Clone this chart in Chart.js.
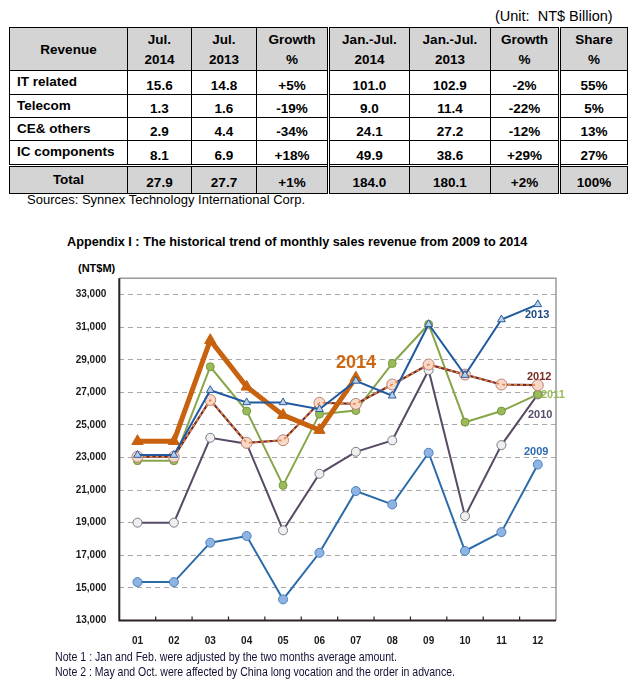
<!DOCTYPE html>
<html>
<head>
<meta charset="utf-8">
<script src="https://cdn.jsdelivr.net/npm/chart.js@4.4.1/dist/chart.umd.min.js"></script>
<style>
  html, body { margin:0; padding:0; background:#fff; }
  body { width:636px; height:688px; position:relative; overflow:hidden; font-family:"Liberation Sans", Arial, sans-serif; color:#000; }
  .abs { position:absolute; white-space:nowrap; }
  .fit { transform-origin:0 0; }
  #tbl { position:absolute; left:9px; top:27px; border-collapse:collapse; table-layout:fixed; font-weight:bold; font-size:13.5px; }
  #tbl td { border:1px solid #000; padding:0; text-align:center; vertical-align:middle; overflow:hidden; }
  #tbl tr.head td { background:#D4D4D4; line-height:20px; padding-top:2px; }
  #tbl tr.body td { padding-top:5px; }
  #tbl tr.body td.lbl { text-align:left; padding-left:7px; padding-top:0; padding-bottom:2px; }
  #tbl tr.total td { background:#D4D4D4; border-top:3px double #000; padding-top:4px; }
  #tbl tr.total td.lbl { padding-top:0; padding-bottom:2px; }
  #tbl td.dbl { border-left:3px double #000; }
  #chartWrap { position:absolute; left:0; top:250px; width:636px; height:400px; }
  .lab { position:absolute; font-weight:bold; font-size:11px; white-space:nowrap; transform:translateY(-50%); }
</style>
</head>
<body>
<div class="abs" style="left:495px; top:8px; font-size:14.5px;">(Unit:&nbsp; NT$ Billion)</div>
<table id="tbl"></table>
<div class="abs fit" data-w="278" style="left:27px; top:192px; font-size:13.5px;">Sources: Synnex Technology International Corp.</div>

<div class="abs" style="left:67px; top:235px; font-size:12.7px; font-weight:bold;">Appendix I : The historical trend of monthly sales revenue from 2009 to 2014</div>
<div class="abs" style="left:78px; top:262px; font-size:11px; font-weight:bold;">(NT$M)</div>

<div id="chartWrap"><canvas id="c" width="636" height="400" style="width:636px;height:400px;"></canvas></div>

<div class="lab" style="left:525px; top:314px; color:#1F497D;">2013</div>
<div class="lab" style="left:527px; top:376px; color:#7B2A22;">2012</div>
<div class="lab" style="left:541px; top:394px; color:#9BBB59;">2011</div>
<div class="lab" style="left:528px; top:414px; color:#5B4B6B;">2010</div>
<div class="lab" style="left:524px; top:451px; color:#2E6CB0;">2009</div>
<div class="lab" style="left:336px; top:362px; color:#CC6611; font-size:18px;">2014</div>

<div class="abs fit" data-w="342" style="left:55px; top:649px; font-size:13px; color:#111133;">Note 1 : Jan and Feb. were adjusted by the two months average amount.</div>
<div class="abs fit" data-w="400" style="left:55px; top:664px; font-size:13px; color:#111133;">Note 2 : May and Oct. were affected by China long vocation and the order in advance.</div>

<script>
// ---------- table data ----------
const tableHeader = [['Revenue'], ['Jul.','2014'], ['Jul.','2013'], ['Growth','%'], ['Jan.-Jul.','2014'], ['Jan.-Jul.','2013'], ['Growth','%'], ['Share','%']];
const tableRows = [
  ['IT related',    '15.6', '14.8', '+5%',  '101.0', '102.9', '-2%',  '55%'],
  ['Telecom',       '1.3',  '1.6',  '-19%', '9.0',   '11.4',  '-22%', '5%'],
  ['CE& others',    '2.9',  '4.4',  '-34%', '24.1',  '27.2',  '-12%', '13%'],
  ['IC components', '8.1',  '6.9',  '+18%', '49.9',  '38.6',  '+29%', '27%']
];
const totalRow = ['Total', '27.9', '27.7', '+1%', '184.0', '180.1', '+2%', '100%'];

// ---------- chart data ----------
const months = ['01','02','03','04','05','06','07','08','09','10','11','12'];
const yTicks = [13000,15000,17000,19000,21000,23000,25000,27000,29000,31000,33000];
const s2009 = [15350,15350,17770,18180,14290,17150,20940,20120,23290,17260,18420,22570];
const s2010 = [19000,19000,24210,23850,18530,22000,23350,24050,28360,19400,23760,26870];
const s2011 = [22800,22800,28570,25850,21290,25660,25880,28770,31180,25170,25850,26870];
const s2012 = [23050,23050,26530,23900,24060,26360,26290,27480,28710,28090,27480,27440];
const s2013 = [23150,23150,27130,26380,26380,25960,27700,26790,31180,28060,31470,32400];
const s2014 = [24000,24000,30200,27340,25600,24680,27900];

// ---------- fit condensed text lines ----------
document.querySelectorAll('.fit').forEach(el => {
  const w = el.getBoundingClientRect().width;
  el.style.transform = 'scaleX(' + (parseFloat(el.dataset.w) / w) + ')';
});

// ---------- build table ----------
const colW = [118, 64, 65, 72, 81, 81, 69, 68];
const rowH = [41, 24, 23, 23, 25, 28];
const dblCols = [4, 7];
const tbl = document.getElementById('tbl');
const cg = document.createElement('colgroup');
colW.forEach(w => { const c = document.createElement('col'); c.style.width = w + 'px'; cg.appendChild(c); });
tbl.appendChild(cg);
function addRow(cells, cls, h, isHead) {
  const tr = document.createElement('tr');
  tr.className = cls;
  tr.style.height = h + 'px';
  cells.forEach((v, i) => {
    const td = document.createElement('td');
    if (isHead) td.innerHTML = v.join('<br>');
    else td.textContent = v;
    if (i === 0 && !isHead) td.className = 'lbl';
    if (dblCols.includes(i)) td.classList.add('dbl');
    tr.appendChild(td);
  });
  tbl.appendChild(tr);
}
addRow(tableHeader, 'head', rowH[0], true);
tableRows.forEach((r, i) => addRow(r, 'body', rowH[i + 1], false));
addRow(totalRow, 'total', rowH[5], false);
tbl.querySelector('tr.total td.lbl').style.textAlign = 'center';
tbl.querySelector('tr.total td.lbl').style.paddingLeft = '0';

// ---------- chart ----------
const frame = {
  id: 'frame',
  beforeDatasetsDraw(chart) {
    const {ctx, chartArea: a, scales} = chart;
    ctx.save();
    ctx.strokeStyle = '#9A9A9A';
    ctx.lineWidth = 1.5;
    ctx.beginPath();
    ctx.moveTo(a.left, a.top); ctx.lineTo(a.right, a.top); ctx.lineTo(a.right, a.bottom);
    ctx.stroke();
    ctx.strokeStyle = '#2B2024';
    ctx.lineWidth = 2;
    ctx.beginPath();
    ctx.moveTo(a.left, a.top); ctx.lineTo(a.left, a.bottom); ctx.lineTo(a.right, a.bottom);
    ctx.stroke();
    const x = scales.x;
    ctx.lineWidth = 1.2;
    ctx.beginPath();
    for (let i = 1; i < months.length; i++) {
      const px = (x.getPixelForValue(i - 1) + x.getPixelForValue(i)) / 2;
      ctx.moveTo(px, a.bottom); ctx.lineTo(px, a.bottom - 4);
    }
    ctx.stroke();
    ctx.restore();
  }
};

const ds = (label, data, line, fill, pbord, style, r, w, order, extra) => Object.assign({
  label, data, borderColor: line, backgroundColor: fill, pointBackgroundColor: fill,
  pointBorderColor: pbord, pointStyle: style, pointRadius: r, pointBorderWidth: 1,
  borderWidth: w, tension: 0, order, clip: false
}, extra || {});

new Chart(document.getElementById('c'), {
  type: 'line',
  data: {
    labels: months,
    datasets: [
      ds('2013', s2013, '#1F5AA0', '#B9CDE5', '#2A5E9E', 'triangle', 4.5, 2, 0),
      ds('2014', s2014, '#C8620F', '#C8620F', '#C8620F', 'triangle', 6.5, 5, 1),
      ds('2012d', s2012, '#E8843C', '#F8D8C8', '#B08070', 'circle', 0, 1.6, 2, {borderDash:[3,3]}),
      ds('2012', s2012, '#6E2A2A', '#F8D8C8', '#B8857A', 'circle', 5.5, 2.2, 3),
      ds('2011', s2011, '#88A54A', '#9BBB59', '#77963F', 'circle', 4, 2, 4),
      ds('2010', s2010, '#584A66', '#EFEFEF', '#7A7A8A', 'circle', 4.5, 2, 5),
      ds('2009', s2009, '#2A6BA8', '#8EB4E3', '#4A7EBB', 'circle', 4.5, 2, 6)
    ]
  },
  options: {
    responsive: false,
    animation: false,
    events: [],
    layout: { padding: { top: 28.3, right: 80, left: 0, bottom: 0 } },
    plugins: { legend: { display: false }, tooltip: { enabled: false } },
    scales: {
      x: {
        offset: true,
        grid: { display: false },
        border: { display: false },
        ticks: { color: '#1a1a1a', font: { family: 'Liberation Sans', size: 10, weight: 'bold' }, padding: 7, maxRotation: 0 },
        afterFit(s) { s.height = 29.6; }
      },
      y: {
        min: 13000, max: 34000,
        afterBuildTicks(s) { s.ticks = yTicks.map(v => ({ value: v })); },
        afterFit(s) { s.width = 119.3; },
        grid: { color: '#A8A8A8', lineWidth: 1, drawTicks: false },
        border: { display: false, dash: [5, 4] },
        ticks: {
          color: '#1a1a1a', padding: 13,
          font: { family: 'Liberation Sans', size: 10, weight: 'bold' },
          callback: v => v.toLocaleString('en-US')
        }
      }
    }
  },
  plugins: [frame]
});
</script>
</body>
</html>
